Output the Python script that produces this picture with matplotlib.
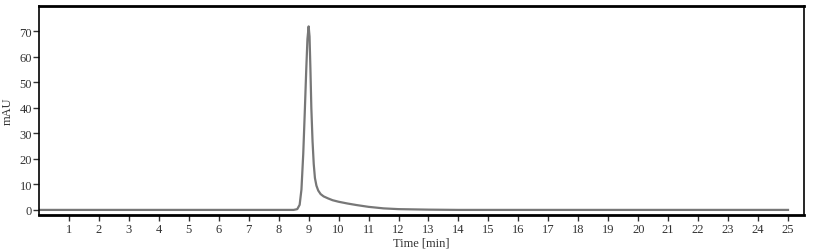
import matplotlib
matplotlib.use("Agg")
import matplotlib.pyplot as plt

time_min = [0.0, 8.5, 8.62, 8.7, 8.76, 8.82, 8.87, 8.92, 8.96, 9.0, 9.03, 9.06, 9.09, 9.13,
            9.17, 9.21, 9.26, 9.32, 9.4, 9.5, 9.65, 9.8, 10.0, 10.3, 10.6, 11.0, 11.5, 12.0,
            13.0, 14.0, 25.0]
signal_mau = [0.0, 0.0, 0.3, 2.0, 8.0, 22.0, 38.0, 55.0, 67.0, 72.0, 68.0, 55.0, 40.0, 27.0,
              18.0, 12.5, 9.5, 7.6, 6.2, 5.3, 4.5, 3.8, 3.2, 2.5, 1.9, 1.2, 0.6, 0.3,
              0.1, 0.0, 0.0]
x_ticks = list(range(1, 26))
y_ticks = [0, 10, 20, 30, 40, 50, 60, 70]

plt.rcParams['font.family'] = ['Liberation Serif', 'DejaVu Serif']
fig = plt.figure(figsize=(8.15, 2.51), dpi=100)
ax = fig.add_axes([39/815, 1 - 216/251, (804-39)/815, (216-7)/251])
ax.plot(time_min, signal_mau, color='#777777', lw=1.6)
ax.set_xlim(0, (804-39)/29.96)
ax.set_ylim(-2, 80)
ax.set_xticks(x_ticks)
ax.set_yticks(y_ticks)
ax.tick_params(axis='both', labelsize=9, colors='#333333', length=4, width=1, direction='out')
ax.tick_params(axis='x', pad=2)
ax.tick_params(axis='y', pad=1)
for name, s in ax.spines.items():
    s.set_color('black')
    s.set_linewidth(2 if name in ('top', 'bottom') else 1.2)
ax.set_xlabel('Time [min]', fontsize=9, color='#333333', labelpad=1)
ax.set_ylabel('mAU', fontsize=9, color='#333333', labelpad=4)
fig.savefig('out.png', dpi=100)
